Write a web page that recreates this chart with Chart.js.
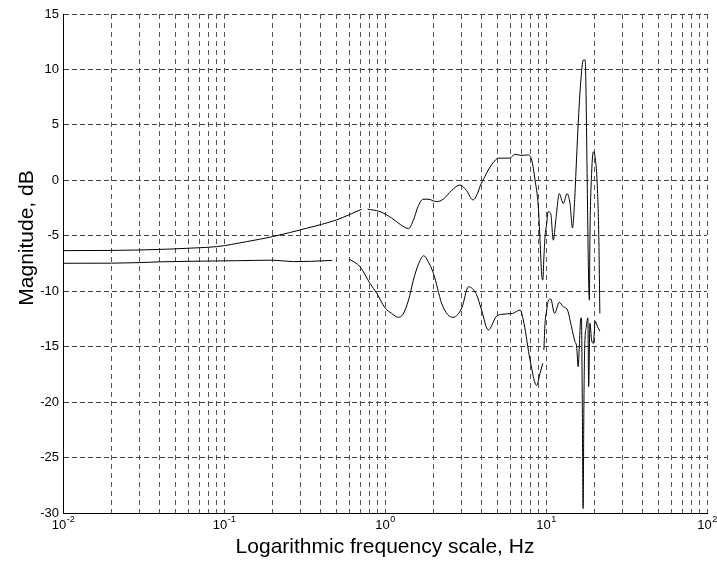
<!DOCTYPE html>
<html>
<head>
<meta charset="utf-8">
<script src="https://cdn.jsdelivr.net/npm/chart.js@4"></script>
<style>
  html, body { margin: 0; padding: 0; background: #fff; }
</style>
</head>
<body>
<canvas id="chart" width="717" height="562"></canvas>
<script>
'use strict';

const FONT = '"Liberation Sans", Arial, sans-serif';

// Upper trace (null = break in the trace)
const upperFreq = [0.01, 0.02, 0.03, 0.046, 0.065, 0.09, 0.138, 0.2, 0.326, 0.5, 0.6, 0.716, 0.74, 0.78,
  0.93, 1.1, 1.25, 1.4, 1.5, 1.6, 1.72, 1.85, 2.09, 2.3, 2.6, 2.92, 3.2, 3.52, 3.75, 3.9,
  4.17, 4.38, 4.7, 5.06, 5.5, 5.97, 6.4, 7.0, 7.77, 8.15, 8.55, 8.96, 9.18, 9.4, 9.55,
  9.7, 9.86, 10.1, 10.3, 10.7, 11.1, 11.5, 12.1, 12.8, 13.5, 14.1, 14.6, 15.1, 15.3,
  15.85, 16.4, 17.06, 17.5, 17.7, 18.0, 18.4, 18.6, 18.75, 19.2, 19.7, 20.3, 20.8, 21.3, 21.6];
const upperMag = [-6.34, -6.32, -6.28, -6.2, -6.1, -5.98, -5.53, -5.08, -4.32, -3.57, -3.1, -2.61, null, -2.6,
  -2.82, -3.4, -4.0, -4.35, -3.6, -2.4, -1.71, -1.7, -1.92, -1.7, -0.9, -0.42, -0.9, -1.77, -1.2, -0.5,
  0.33, 0.93, 1.6, 2.0, 2.0, 2.0, 2.35, 2.25, 2.29, 1.83, 0.03, -2.4, -5.4, -8.5, -9.0,
  -7.0, -5.1, -3.9, -2.83, -3.0, -5.4, -3.6, -1.2, -2.1, -1.2, -2.1, -4.3, -1.5, 0.33,
  5.1, 8.7, 10.85, 10.85, 8.45, 0.63, -9.0, -10.8, -5.0, 0.63, 2.58, 1.8, -0.27, -5.4, -12.0];

// Lower trace
const lowerFreq = [0.01, 0.02, 0.03, 0.04, 0.06, 0.08, 0.12, 0.2, 0.27, 0.35, 0.47, 0.53, 0.6, 0.7,
  0.807, 0.89, 1.0, 1.1, 1.21, 1.29, 1.4, 1.5, 1.62, 1.74, 1.85, 2.0, 2.25, 2.45, 2.65,
  3.0, 3.3, 3.7, 3.98, 4.38, 4.9, 5.2, 6.2, 6.9, 7.3, 7.96, 8.75, 9.18, 9.55, 9.62, 9.7,
  9.86, 10.1, 10.3, 10.7, 11.3, 12.1, 12.8, 13.6, 14.4, 15.1, 15.5, 15.85, 16.1, 16.4,
  16.6, 16.8, 17.0, 17.2, 17.4, 17.8, 18.2, 18.4, 18.75, 19.2, 19.7, 20.2, 20.9, 21.6];
const lowerMag = [-7.48, -7.47, -7.42, -7.35, -7.3, -7.28, -7.25, -7.2, -7.33, -7.3, -7.22, null, -7.1, -7.8,
  -9.3, -10.2, -11.5, -12.0, -12.35, -12.1, -10.8, -9.0, -7.5, -6.8, -7.3, -8.4, -11.1, -12.1, -12.35,
  -11.5, -9.6, -10.3, -11.7, -13.5, -12.3, -12.1, -12.0, -11.7, -12.9, -16.2, -18.5, -17.4, -16.5, null, -15.3,
  -12.9, -11.7, -10.9, -10.7, -12.0, -11.0, -11.4, -11.7, -13.2, -14.5, -15.0, -16.8, -15.0, -12.6,
  -12.4, -19.8, -29.6, -20.0, -15.0, -13.2, -12.4, -18.6, -12.9, -14.4, -14.7, -12.7, -13.2, -13.6];

// Axes
const xDecades = [0.01, 0.1, 1, 10, 100];
const xExponents = ['-2', '-1', '0', '1', '2'];
const yMin = -30, yMax = 15, yStep = 5;
const xTitle = 'Logarithmic frequency scale, Hz';
const yTitle = 'Magnitude, dB';

// grid lines at 1..9 of every decade
const xGrid = [];
for (let i = 0; i < xDecades.length - 1; i++) {
  for (let k = 1; k <= 9; k++) xGrid.push(k * xDecades[i]);
}
xGrid.push(xDecades[xDecades.length - 1]);

const toPoints = (fs, ms) => fs.map((f, i) => ({x: f, y: ms[i]}));

function traceStyle(points) {
  return {
    data: points,
    borderColor: '#000',
    borderWidth: 1,
    pointRadius: 0,
    cubicInterpolationMode: 'monotone',
    spanGaps: false
  };
}

// x tick labels as 10^n, and both axis titles
const axisText = {
  id: 'axisText',
  afterDraw(chart) {
    const {ctx, chartArea, scales: {x}} = chart;
    ctx.save();
    ctx.fillStyle = '#000';
    ctx.textAlign = 'left';
    ctx.textBaseline = 'alphabetic';
    xDecades.forEach((v, i) => {
      const px = x.getPixelForValue(v);
      ctx.font = '13px ' + FONT;
      const wBase = ctx.measureText('10').width;
      ctx.font = '9px ' + FONT;
      const wExp = ctx.measureText(xExponents[i]).width;
      const left = px - (wBase + wExp) / 2;
      ctx.font = '13px ' + FONT;
      ctx.fillText('10', left, 529);
      ctx.font = '9px ' + FONT;
      ctx.fillText(xExponents[i], left + wBase + 0.5, 522);
    });

    ctx.font = '21px ' + FONT;
    ctx.textAlign = 'center';
    ctx.fillText(xTitle, (chartArea.left + chartArea.right) / 2, 553);

    ctx.translate(33, 238);
    ctx.rotate(-Math.PI / 2);
    ctx.fillText(yTitle, 0, 0);
    ctx.restore();
  }
};

new Chart(document.getElementById('chart'), {
  type: 'line',
  data: {
    datasets: [
      traceStyle(toPoints(upperFreq, upperMag)),
      traceStyle(toPoints(lowerFreq, lowerMag))
    ]
  },
  options: {
    responsive: false,
    animation: false,
    devicePixelRatio: 1,
    layout: {padding: {top: 14, right: 10, left: 0, bottom: 0}},
    plugins: {
      legend: {display: false},
      tooltip: {enabled: false}
    },
    scales: {
      x: {
        type: 'logarithmic',
        min: xDecades[0],
        max: xDecades[xDecades.length - 1],
        afterBuildTicks: scale => { scale.ticks = xGrid.map(v => ({value: v})); },
        afterFit: scale => { scale.height = 49; },
        ticks: {display: false},
        grid: {color: '#555', lineWidth: 1, drawTicks: false},
        border: {display: true, color: '#000', width: 1, dash: [5, 4]}
      },
      y: {
        min: yMin,
        max: yMax,
        afterFit: scale => { scale.width = 63; },
        ticks: {stepSize: yStep, color: '#000', padding: 4, font: {family: FONT, size: 13}},
        grid: {color: '#444', lineWidth: 1, drawTicks: false},
        border: {display: true, color: '#000', width: 1, dash: [5, 3]}
      }
    }
  },
  plugins: [axisText]
});
</script>
</body>
</html>
